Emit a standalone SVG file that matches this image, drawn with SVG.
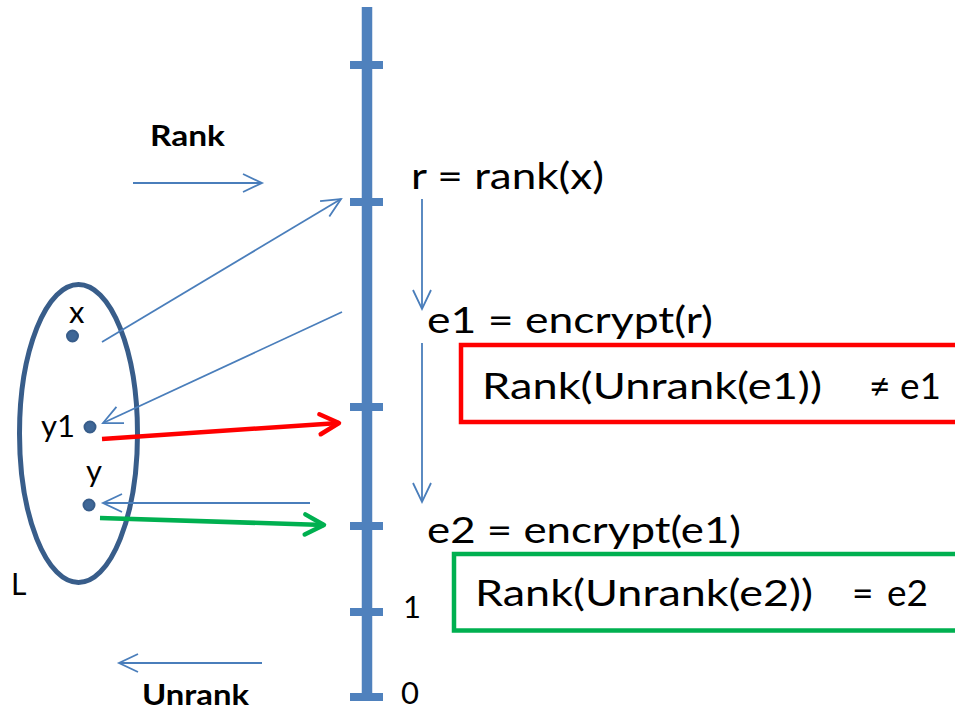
<svg xmlns="http://www.w3.org/2000/svg" width="955" height="711" viewBox="0 0 955 711">
<style>
  .t { font-family: Lato, "Open Sans", "DejaVu Sans", sans-serif; fill: #000; }
  .b { font-weight: bold; }
  .thin { stroke: #4A7EBB; stroke-width: 1.8; fill: none; }
  .tick { stroke: #4F81BD; stroke-width: 8; }
</style>
<defs>
  <marker id="ah" markerUnits="userSpaceOnUse" viewBox="-25 -15 30 30" markerWidth="30" markerHeight="30" refX="0" refY="0" orient="auto" overflow="visible">
    <path d="M -19 -9 L 0 0 L -19 9" fill="none" stroke="#4A7EBB" stroke-width="1.8"/>
  </marker>
  <marker id="ahRed" markerUnits="userSpaceOnUse" viewBox="-25 -15 30 30" markerWidth="30" markerHeight="30" refX="0" refY="0" orient="auto" overflow="visible">
    <path d="M -19 -10 L 0 0 L -19 10" fill="none" stroke="#FF0000" stroke-width="4.5" stroke-linecap="round" stroke-linejoin="round"/>
  </marker>
  <marker id="ahGreen" markerUnits="userSpaceOnUse" viewBox="-25 -15 30 30" markerWidth="30" markerHeight="30" refX="0" refY="0" orient="auto" overflow="visible">
    <path d="M -19 -10 L 0 0 L -19 10" fill="none" stroke="#00B050" stroke-width="4.5" stroke-linecap="round" stroke-linejoin="round"/>
  </marker>
</defs>

<g id="axis">
  <line x1="367" y1="7" x2="367" y2="701" stroke="#4F81BD" stroke-width="10.5"/>
  <line class="tick" x1="350" y1="65" x2="383" y2="65"/>
  <line class="tick" x1="350" y1="202" x2="383" y2="202"/>
  <line class="tick" x1="350" y1="407" x2="383" y2="407"/>
  <line class="tick" x1="350" y1="526" x2="383" y2="526"/>
  <line class="tick" x1="350" y1="612" x2="383" y2="612"/>
  <line class="tick" x1="350" y1="697" x2="383" y2="697"/>
  <text class="t" x="403" y="618" font-size="31">1</text>
  <text class="t" x="401" y="704" font-size="31">0</text>
</g>

<g id="set-L">
  <ellipse cx="78.5" cy="433.5" rx="59" ry="149" fill="none" stroke="#385D8A" stroke-width="5"/>
  <text class="t" x="11" y="595" font-size="30">L</text>
</g>
<g id="point-x">
  <circle cx="72.5" cy="336" r="5.5" fill="#3F6797" stroke="#385D8A" stroke-width="2"/>
  <text class="t" x="69" y="323" font-size="31">x</text>
</g>
<g id="point-y1">
  <circle cx="90" cy="427" r="5.5" fill="#3F6797" stroke="#385D8A" stroke-width="2"/>
  <text class="t" x="41" y="437" font-size="30" textLength="34" lengthAdjust="spacingAndGlyphs">y1</text>
</g>
<g id="point-y">
  <circle cx="89" cy="505" r="5.5" fill="#3F6797" stroke="#385D8A" stroke-width="2"/>
  <text class="t" x="86" y="482" font-size="31">y</text>
</g>

<g id="label-rank">
  <text class="t b" x="150" y="146" font-size="29" textLength="75" lengthAdjust="spacingAndGlyphs">Rank</text>
</g>
<g id="label-unrank">
  <text class="t b" x="142" y="705" font-size="29" textLength="107" lengthAdjust="spacingAndGlyphs">Unrank</text>
</g>

<g id="expr-r">
  <text class="t" x="411" y="189" font-size="36" textLength="193" lengthAdjust="spacingAndGlyphs">r = rank(x)</text>
</g>
<g id="expr-e1">
  <text class="t" x="427" y="333" font-size="36" textLength="286" lengthAdjust="spacingAndGlyphs">e1 = encrypt(r)</text>
</g>
<g id="expr-e2">
  <text class="t" x="427" y="543" font-size="36" textLength="314" lengthAdjust="spacingAndGlyphs">e2 = encrypt(e1)</text>
</g>

<g id="box-e1">
  <rect x="461" y="345" width="520" height="77" fill="none" stroke="#FF0000" stroke-width="4.5"/>
  <text class="t" y="399" font-size="37"><tspan x="482" textLength="340" lengthAdjust="spacingAndGlyphs">Rank(Unrank(e1))</tspan><tspan x="869">≠</tspan><tspan x="900">e1</tspan></text>
</g>
<g id="box-e2">
  <rect x="454" y="554" width="520" height="76.5" fill="none" stroke="#00B050" stroke-width="4.5"/>
  <text class="t" y="606" font-size="37"><tspan x="475" textLength="338" lengthAdjust="spacingAndGlyphs">Rank(Unrank(e2))</tspan><tspan x="852">=</tspan><tspan x="887">e2</tspan></text>
</g>

<g id="connectors">
  <line class="thin" x1="133" y1="183" x2="262" y2="183" marker-end="url(#ah)"/>
  <line class="thin" x1="262" y1="663" x2="119" y2="663" marker-end="url(#ah)"/>
  <line class="thin" x1="102" y1="342" x2="341" y2="199" marker-end="url(#ah)"/>
  <line class="thin" x1="342" y1="312" x2="103" y2="423" marker-end="url(#ah)"/>
  <line class="thin" x1="310" y1="503" x2="103" y2="503" marker-end="url(#ah)"/>
  <line class="thin" x1="422" y1="199" x2="422" y2="309" marker-end="url(#ah)"/>
  <line class="thin" x1="422" y1="343" x2="422" y2="502" marker-end="url(#ah)"/>
  <line x1="102" y1="439" x2="339" y2="423" stroke="#FF0000" stroke-width="4.5" marker-end="url(#ahRed)"/>
  <line x1="100" y1="518" x2="324" y2="525" stroke="#00B050" stroke-width="4.5" marker-end="url(#ahGreen)"/>
</g>
</svg>
